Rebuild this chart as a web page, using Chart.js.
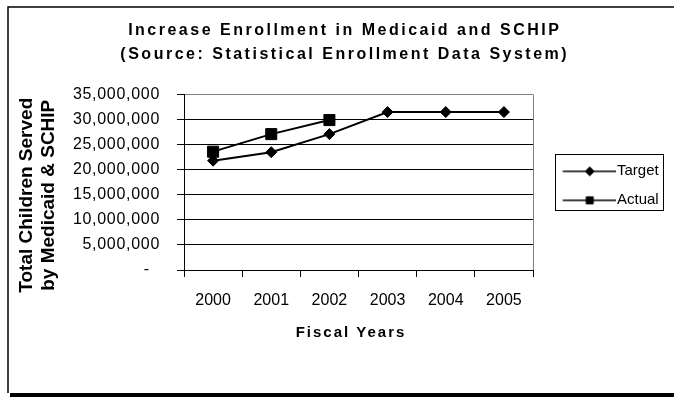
<!DOCTYPE html>
<html>
<head>
<meta charset="utf-8">
<script src="https://cdn.jsdelivr.net/npm/chart.js@4/dist/chart.umd.min.js"></script>
<style>
html,body{margin:0;padding:0;background:#fff;}
canvas{display:block;}
</style>
</head>
<body>
<canvas id="c" width="674" height="397"></canvas>
<script>
// ---- data ----
const categories = ['2000', '2001', '2002', '2003', '2004', '2005'];
const targetValues = [21800000, 23500000, 27100000, 31500000, 31500000, 31500000];
const actualValues = [23600000, 27100000, 29900000, null, null, null];
const seriesNames = ['Target', 'Actual'];
const yTickLabels = ['-', '5,000,000', '10,000,000', '15,000,000', '20,000,000', '25,000,000', '30,000,000', '35,000,000'];
const titleLines = ['Increase Enrollment in Medicaid and SCHIP', '(Source: Statistical Enrollment Data System)'];
const yTitleLines = ['Total Children Served', 'by Medicaid & SCHIP'];
const xTitle = 'Fiscal Years';

const FAMILY = "'Liberation Sans', Arial, Helvetica, sans-serif";
Chart.defaults.font.family = FAMILY;
Chart.defaults.color = '#000';

// layout targets
const AREA_LEFT = 184, AREA_RIGHT = 533, AREA_BOTTOM = 270;
const LEG_PAD = 14, LEG_BOX = 62.5, LEG_FONT = 15;

const mc = document.createElement('canvas').getContext('2d');
mc.font = LEG_FONT + 'px ' + FAMILY;
const maxTextW = Math.max(...seriesNames.map(s => mc.measureText(s).width));
const legendW = LEG_PAD + LEG_BOX + LEG_FONT / 2 + maxTextW + 10;
const padR = 674 - AREA_RIGHT - legendW;
const padL = 15.5 + padR;

function makeIcon(style, r) {
  const cv = document.createElement('canvas');
  cv.width = 76; cv.height = 18;
  const c = cv.getContext('2d');
  c.strokeStyle = '#000'; c.lineWidth = 1.5;
  c.beginPath(); c.moveTo(22.5, 9); c.lineTo(76, 9); c.stroke();
  c.fillStyle = '#000'; c.lineWidth = 1;
  if (Chart.helpers && Chart.helpers.drawPoint) {
    Chart.helpers.drawPoint(c, {pointStyle: style, radius: r, borderWidth: 1, rotation: 0}, 49.5, 9);
  }
  return cv;
}
const legendIcons = [makeIcon('rectRot', 4.5), makeIcon('rect', 5)];

const decor = {
  id: 'decor',
  beforeDraw(chart) {
    const c = chart.ctx;
    c.save();
    c.fillStyle = '#fff';
    c.fillRect(0, 0, chart.width, chart.height);
    c.strokeStyle = '#000'; c.lineWidth = 1.5;
    c.beginPath(); c.moveTo(8, 393); c.lineTo(8, 7); c.lineTo(676, 7); c.stroke();
    c.fillStyle = '#000';
    c.fillRect(10, 393, 664, 4);
    c.restore();
  },
  beforeDatasetsDraw(chart) {
    const a = chart.chartArea, c = chart.ctx;
    c.save();
    c.strokeStyle = '#808080'; c.lineWidth = 1;
    c.beginPath();
    c.moveTo(Math.round(a.right) + 0.5, a.top);
    c.lineTo(Math.round(a.right) + 0.5, a.bottom);
    c.stroke();
    c.restore();
  },
  afterDraw(chart) {
    const lg = chart.legend;
    if (!lg || !lg.legendHitBoxes || lg.legendHitBoxes.length < 2) return;
    const h0 = lg.legendHitBoxes[0], h1 = lg.legendHitBoxes[lg.legendHitBoxes.length - 1];
    const c = chart.ctx;
    const left = Math.round(lg.left + 22) + 0.5;
    const right = Math.round(lg.left + 130) + 0.5;
    const top = Math.round(h0.top - 10) + 0.5;
    const bottom = Math.round(h1.top + h1.height + 2) + 0.5;
    c.save();
    c.strokeStyle = '#000'; c.lineWidth = 1;
    c.strokeRect(left, top, right - left, bottom - top);
    c.restore();
  },
  afterLayout(chart) {
    const t = chart.titleBlock;
    if (t && !t._wrapped) {
      const d = t.draw;
      t.draw = function (a) {
        const c = this.ctx; c.save(); c.letterSpacing = '2.5px'; d.call(this, a); c.restore();
      };
      t._wrapped = true;
    }
    const x = chart.scales.x;
    if (x && !x._wrapped) {
      const d = x.drawTitle;
      x.drawTitle = function () {
        const c = this.ctx; c.save(); c.letterSpacing = '2px'; c.translate(-7.5, 0); d.call(this); c.restore();
      };
      x._wrapped = true;
    }
    const y = chart.scales.y;
    if (y && !y._wrapped) {
      const d = y.drawTitle;
      y.drawTitle = function () {
        const c = this.ctx; c.save(); c.translate(26.4 - (padL + 11), 13); d.call(this); c.restore();
      };
      const dl = y.drawLabels;
      y.drawLabels = function (a) {
        const c = this.ctx; c.save(); c.letterSpacing = '0.7px'; dl.call(this, a); c.restore();
      };
      y._wrapped = true;
    }
  }
};

new Chart(document.getElementById('c'), {
  type: 'line',
  data: {
    labels: categories,
    datasets: [
      {
        label: seriesNames[0], data: targetValues,
        borderColor: '#000', borderWidth: 2, backgroundColor: '#000',
        pointStyle: 'rectRot', pointRadius: 5.5, pointBorderWidth: 1,
        pointBackgroundColor: '#000', pointBorderColor: '#000', tension: 0, fill: false
      },
      {
        label: seriesNames[1], data: actualValues,
        borderColor: '#000', borderWidth: 2, backgroundColor: '#000',
        pointStyle: 'rect', pointRadius: 7.8, pointBorderWidth: 1,
        pointBackgroundColor: '#000', pointBorderColor: '#000', tension: 0, fill: false
      }
    ]
  },
  options: {
    responsive: false,
    animation: false,
    events: [],
    layout: { padding: { left: padL, right: padR, top: 0, bottom: 0 } },
    plugins: {
      title: {
        display: true,
        text: titleLines,
        color: '#000',
        font: { size: 16, weight: 'bold', lineHeight: 23.5 / 16 },
        padding: { top: 19, bottom: 28.5 }
      },
      legend: {
        display: true,
        position: 'right',
        fullSize: false,
        title: { display: true, text: '', font: { size: 1, lineHeight: 1 }, padding: { top: 6.2, bottom: 0 } },
        labels: {
          usePointStyle: true,
          pointStyleWidth: LEG_BOX,
          padding: LEG_PAD,
          color: '#000',
          font: { size: LEG_FONT },
          generateLabels(chart) {
            return chart.data.datasets.map((ds, i) => ({
              text: ds.label,
              pointStyle: legendIcons[i],
              fillStyle: '#000',
              strokeStyle: '#000',
              lineWidth: 0,
              hidden: false,
              datasetIndex: i,
              fontColor: '#000'
            }));
          }
        }
      },
      tooltip: { enabled: false }
    },
    scales: {
      x: {
        type: 'category',
        offset: true,
        grid: { display: true, drawOnChartArea: false, drawTicks: true, tickLength: 7, offset: true, color: '#000', tickColor: '#000' },
        border: { display: true, color: '#000', width: 1 },
        ticks: { color: '#000', font: { size: 16 }, padding: 14, maxRotation: 0, autoSkip: false },
        title: { display: true, text: xTitle, color: '#000', font: { size: 15, weight: 'bold', lineHeight: 1.2 }, padding: { top: 0, bottom: 55 } },
        afterFit(scale) { scale.height = 397 - AREA_BOTTOM; }
      },
      y: {
        min: 0, max: 35000000,
        ticks: {
          stepSize: 5000000,
          color: '#000',
          font: { size: 16 },
          padding: 17,
          callback: (v, i) => (i === 0 ? yTickLabels[i] + '\u00a0\u00a0' : yTickLabels[i])
        },
        grid: {
          color: (ctx) => (ctx.tick && ctx.tick.value === 35000000 ? '#808080' : '#000'),
          tickColor: '#000', tickLength: 7, drawTicks: true, lineWidth: 1
        },
        border: { display: true, color: '#000', width: 1 },
        title: { display: true, text: yTitleLines, color: '#000', font: { size: 19, weight: 'bold', lineHeight: 22 / 19 }, padding: { top: 0, bottom: 0 } },
        afterFit(scale) { scale.width = AREA_LEFT - padL; }
      }
    }
  },
  plugins: [decor]
});
</script>
</body>
</html>
